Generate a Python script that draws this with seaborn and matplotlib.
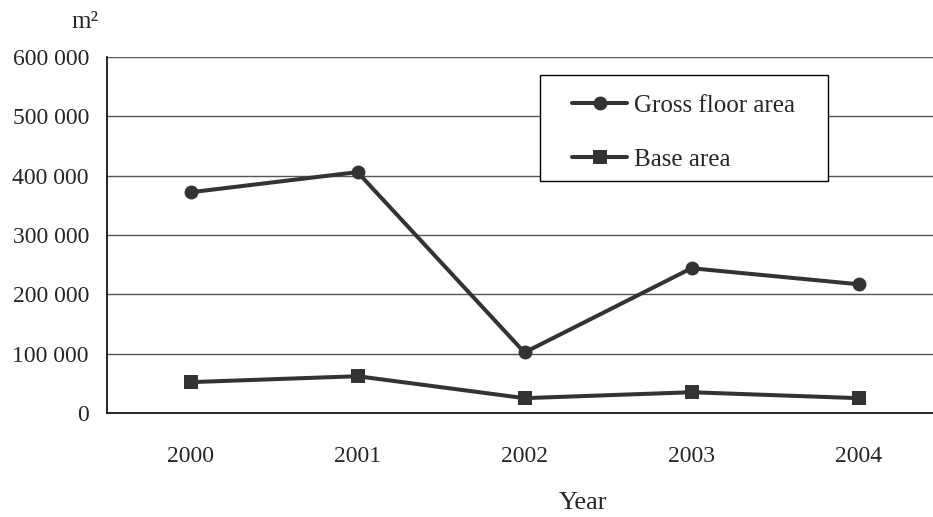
import pandas as pd
import matplotlib.pyplot as plt
import seaborn as sns
from matplotlib.patches import Rectangle

years = [2000, 2001, 2002, 2003, 2004]
gross_floor_area = [372000, 406000, 102000, 244000, 217000]
base_area = [52000, 62000, 25000, 35000, 25000]
y_ticks = [0, 100000, 200000, 300000, 400000, 500000, 600000]
y_tick_labels = ["0", "100 000", "200 000", "300 000", "400 000", "500 000", "600 000"]

df = pd.DataFrame({
    "Year": years * 2,
    "Area": gross_floor_area + base_area,
    "Series": ["Gross floor area"] * len(years) + ["Base area"] * len(years),
})

sns.set_style("white")
plt.rcParams['font.family'] = ['Liberation Serif', 'DejaVu Serif']

W, H = 933, 517
fig = plt.figure(figsize=(W / 100, H / 100), dpi=100)
ax = fig.add_axes([107 / W, 1 - 413 / H, 835 / W, 356 / H])

ax.set_axisbelow(True)
for t in y_ticks[1:]:
    ax.axhline(t, color="#555555", lw=1.0, zorder=0)

sns.lineplot(data=df, x="Year", y="Area", hue="Series", style="Series",
             palette={"Gross floor area": "#333333", "Base area": "#333333"},
             markers={"Gross floor area": "o", "Base area": "s"},
             dashes=False, lw=2.9, markersize=10, markeredgewidth=0, ax=ax)

ax.set_xlim(1999.5, 2004.5)
ax.set_ylim(0, 600000)
ax.set_yticks(y_ticks)
ax.set_yticklabels(y_tick_labels)
ax.set_xticks(years)
ax.set_xticklabels([str(y) for y in years])
ax.set_xticks([1999.5 + i for i in range(1, 5)], minor=True)
ax.tick_params(axis="x", which="major", length=0, pad=24, labelsize=17)
ax.tick_params(axis="x", which="minor", direction="in", length=6, width=1, color="black")
ax.tick_params(axis="y", direction="in", length=6, width=1, color="black", pad=13, labelsize=17)
ax.set_xlabel("")
ax.set_ylabel("")

for side in ["top", "right"]:
    ax.spines[side].set_visible(False)
for side in ["left", "bottom"]:
    ax.spines[side].set_color("black")
    ax.spines[side].set_linewidth(1.2)

fig.text(85 / W, 1 - 22 / H, "m²", fontsize=18, ha="center", va="center")
fig.text(583 / W, 1 - 503 / H, "Year", fontsize=19, ha="center", va="center")

# legend box drawn by hand so its padding can match the reference
box = Rectangle((540 / W, 1 - 181 / H), 288 / W, 106 / H,
                transform=fig.transFigure, facecolor="white",
                edgecolor="black", lw=1.0, zorder=3, clip_on=False)
ax.add_patch(box)
leg = ax.legend(loc="upper left", bbox_to_anchor=(572 / W, 1 - 94 / H),
                bbox_transform=fig.transFigure, fontsize=18, frameon=False,
                handlelength=2.2, handletextpad=0.3, labelspacing=1.27,
                borderpad=0, borderaxespad=0, title=None)
leg.set_zorder(4)

fig.savefig("out.png", dpi=100)
